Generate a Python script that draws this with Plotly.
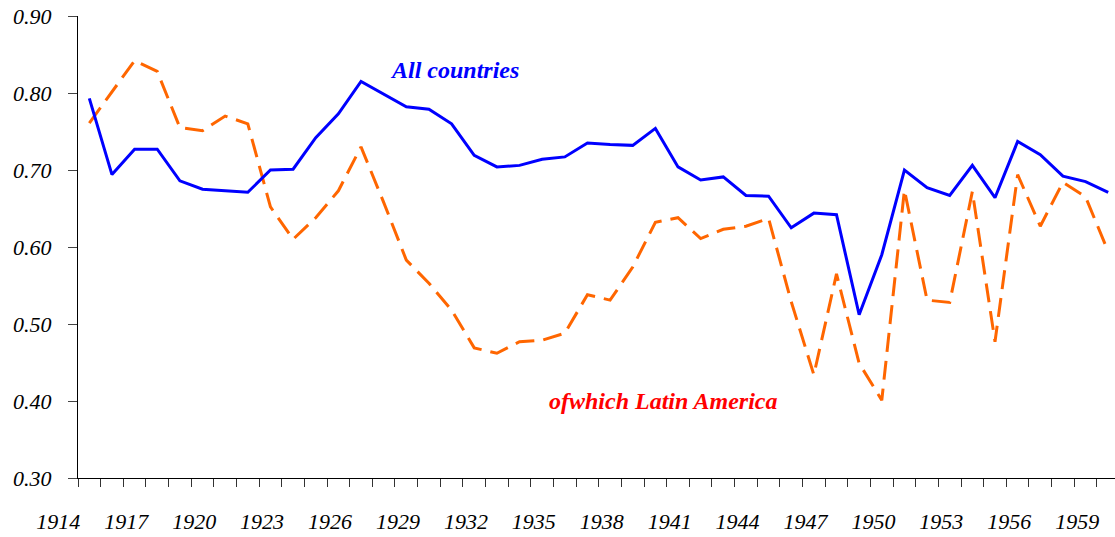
import plotly.graph_objects as go

years = list(range(1914, 1960))

all_countries = [0.793, 0.694, 0.727, 0.727, 0.686, 0.675, 0.673, 0.671, 0.700, 0.701,
                 0.742, 0.773, 0.815, 0.798, 0.782, 0.779, 0.760, 0.719, 0.704, 0.706,
                 0.714, 0.717, 0.735, 0.733, 0.732, 0.754, 0.704, 0.687, 0.691, 0.667,
                 0.666, 0.625, 0.644, 0.642, 0.512, 0.590, 0.700, 0.677, 0.667, 0.706,
                 0.664, 0.737, 0.720, 0.692, 0.685, 0.671]

latin_america = [0.761, 0.802, 0.842, 0.828, 0.755, 0.751, 0.770, 0.760, 0.652, 0.610,
                 0.638, 0.673, 0.730, 0.658, 0.583, 0.553, 0.518, 0.469, 0.462, 0.477,
                 0.479, 0.488, 0.538, 0.531, 0.574, 0.632, 0.638, 0.611, 0.623, 0.627,
                 0.637, 0.529, 0.434, 0.565, 0.449, 0.401, 0.674, 0.531, 0.528, 0.672,
                 0.477, 0.694, 0.627, 0.684, 0.665, 0.594]

label_years = list(range(1914, 1960, 3))
y_ticks = [0.3, 0.4, 0.5, 0.6, 0.7, 0.8, 0.9]

SERIF = "'Liberation Serif', 'Times New Roman', 'DejaVu Serif', serif"

fig = go.Figure()

fig.add_trace(go.Scatter(x=years, y=latin_america, mode='lines',
                         name='ofwhich Latin America',
                         line=dict(color='#FF6600', width=3, dash='19px,9px')))

fig.add_trace(go.Scatter(x=years, y=all_countries, mode='lines',
                         name='All countries',
                         line=dict(color='#0000FF', width=3)))

fig.add_annotation(x=1930.15, y=0.83, text='<b><i>All countries</i></b>',
                   showarrow=False, font=dict(family=SERIF, size=24, color='#0000FF'))
fig.add_annotation(x=1939.35, y=0.40, text='<b><i>ofwhich Latin America</i></b>',
                   showarrow=False, font=dict(family=SERIF, size=24, color='#FF0000'))

fig.update_layout(
    width=1115, height=537,
    margin=dict(l=78, r=0, t=16, b=59),
    plot_bgcolor='white', paper_bgcolor='white',
    showlegend=False,
    font=dict(family=SERIF, size=22, color='black'),
)

fig.update_xaxes(
    range=[1913.5, 1959.3],
    tickmode='array', tickvals=label_years, ticktext=[str(y) for y in label_years],
    ticks='', ticklabelshift=-31, ticklabelstandoff=24,
    tickfont=dict(family=SERIF, size=22, style='italic'),
    minor=dict(tick0=1913.5, dtick=1, ticks='outside', ticklen=8, tickcolor='#333333'),
    showline=True, linecolor='black', linewidth=1,
    showgrid=False, zeroline=False,
)

fig.update_yaxes(
    range=[0.3, 0.9],
    tickmode='array', tickvals=y_ticks, ticktext=['%.2f' % v for v in y_ticks],
    ticks='outside', ticklen=9, tickcolor='#444444', ticklabelstandoff=12,
    tickfont=dict(family=SERIF, size=22, style='italic'),
    showline=True, linecolor='black', linewidth=1,
    showgrid=False, zeroline=False,
)

# drop the page's default 8px body margin so the figure sits at the corner
fig.write_html("out.html", config={'displayModeBar': False},
               post_script="document.body.style.margin='0';")
